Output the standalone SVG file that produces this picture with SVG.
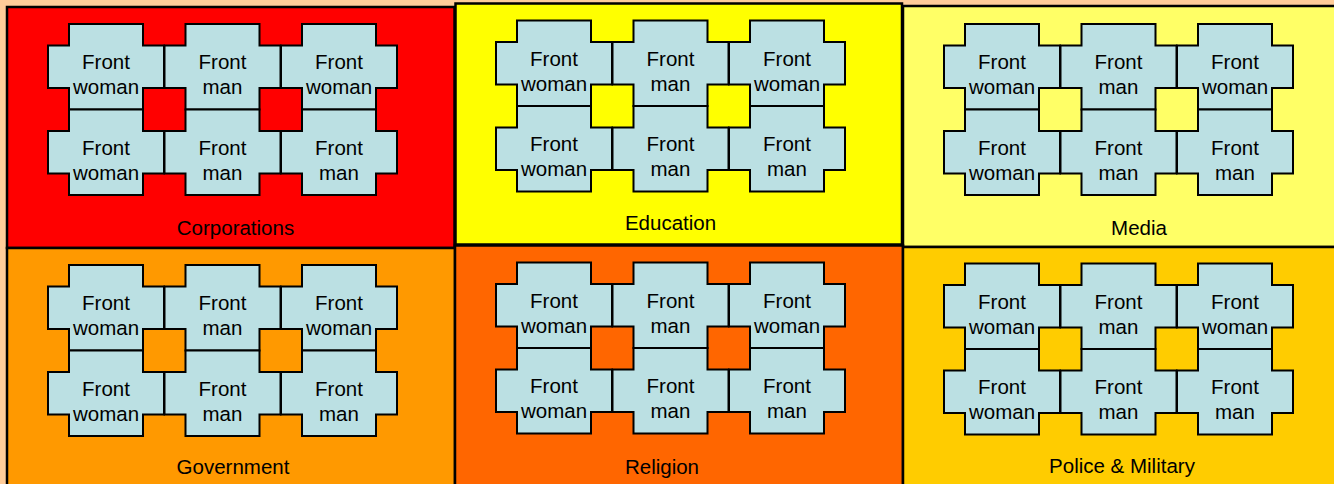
<svg xmlns="http://www.w3.org/2000/svg" xmlns:xlink="http://www.w3.org/1999/xlink" width="1334" height="484" viewBox="0 0 1334 484">
<style>
.panel{stroke:#000;stroke-width:2.5}
.tile{fill:#BBE0E3;stroke:#000;stroke-width:2}
text{font-family:"Liberation Sans",Arial,sans-serif;font-size:20.5px;fill:#000;text-anchor:middle}
</style>
<defs>
<path id="tile" d="M21,0 H95 V21.5 H116 V64 H95 V85.5 H21 V64 H0 V21.5 H21 Z"/>
</defs>
<rect width="1334" height="484" fill="#FFCC99"/>
<g id="panels">
<rect id="corporations-bg" class="panel" x="7" y="7" width="447.5" height="241" fill="#FF0000"/>
<rect id="education-bg" class="panel" x="455.5" y="3.5" width="446.5" height="241" fill="#FFFF00"/>
<rect id="media-bg" class="panel" x="903" y="6" width="440" height="241" fill="#FFFF66"/>
<rect id="government-bg" class="panel" x="7" y="248" width="448" height="250" fill="#FF9900"/>
<rect id="religion-bg" class="panel" x="455" y="245.5" width="448" height="250" fill="#FF6600"/>
<rect id="police-bg" class="panel" x="903" y="247" width="440" height="250" fill="#FFCC00"/>
</g>
<g id="connectors"></g>
<!-- Panel 1 -->
<g id="p1-t1" transform="translate(48,24)"><use href="#tile" class="tile"/><text x="58" y="45">Front</text><text x="58" y="70">woman</text></g>
<g id="p1-t2" transform="translate(164.5,24)"><use href="#tile" class="tile"/><text x="58" y="45">Front</text><text x="58" y="70">man</text></g>
<g id="p1-t3" transform="translate(281,24)"><use href="#tile" class="tile"/><text x="58" y="45">Front</text><text x="58" y="70">woman</text></g>
<g id="p1-t4" transform="translate(48,109.5)"><use href="#tile" class="tile"/><text x="58" y="45">Front</text><text x="58" y="70">woman</text></g>
<g id="p1-t5" transform="translate(164.5,109.5)"><use href="#tile" class="tile"/><text x="58" y="45">Front</text><text x="58" y="70">man</text></g>
<g id="p1-t6" transform="translate(281,109.5)"><use href="#tile" class="tile"/><text x="58" y="45">Front</text><text x="58" y="70">man</text></g>
<g id="label-corporations"><text x="235.5" y="235">Corporations</text></g>
<!-- Panel 2 -->
<g id="p2-t1" transform="translate(496,20.5)"><use href="#tile" class="tile"/><text x="58" y="45">Front</text><text x="58" y="70">woman</text></g>
<g id="p2-t2" transform="translate(612.5,20.5)"><use href="#tile" class="tile"/><text x="58" y="45">Front</text><text x="58" y="70">man</text></g>
<g id="p2-t3" transform="translate(729,20.5)"><use href="#tile" class="tile"/><text x="58" y="45">Front</text><text x="58" y="70">woman</text></g>
<g id="p2-t4" transform="translate(496,106)"><use href="#tile" class="tile"/><text x="58" y="45">Front</text><text x="58" y="70">woman</text></g>
<g id="p2-t5" transform="translate(612.5,106)"><use href="#tile" class="tile"/><text x="58" y="45">Front</text><text x="58" y="70">man</text></g>
<g id="p2-t6" transform="translate(729,106)"><use href="#tile" class="tile"/><text x="58" y="45">Front</text><text x="58" y="70">man</text></g>
<g id="label-education"><text x="670.5" y="230">Education</text></g>
<!-- Panel 3 -->
<g id="p3-t1" transform="translate(944,24)"><use href="#tile" class="tile"/><text x="58" y="45">Front</text><text x="58" y="70">woman</text></g>
<g id="p3-t2" transform="translate(1060.5,24)"><use href="#tile" class="tile"/><text x="58" y="45">Front</text><text x="58" y="70">man</text></g>
<g id="p3-t3" transform="translate(1177,24)"><use href="#tile" class="tile"/><text x="58" y="45">Front</text><text x="58" y="70">woman</text></g>
<g id="p3-t4" transform="translate(944,109.5)"><use href="#tile" class="tile"/><text x="58" y="45">Front</text><text x="58" y="70">woman</text></g>
<g id="p3-t5" transform="translate(1060.5,109.5)"><use href="#tile" class="tile"/><text x="58" y="45">Front</text><text x="58" y="70">man</text></g>
<g id="p3-t6" transform="translate(1177,109.5)"><use href="#tile" class="tile"/><text x="58" y="45">Front</text><text x="58" y="70">man</text></g>
<g id="label-media"><text x="1139" y="235">Media</text></g>
<!-- Panel 4 -->
<g id="p4-t1" transform="translate(48,265)"><use href="#tile" class="tile"/><text x="58" y="45">Front</text><text x="58" y="70">woman</text></g>
<g id="p4-t2" transform="translate(164.5,265)"><use href="#tile" class="tile"/><text x="58" y="45">Front</text><text x="58" y="70">man</text></g>
<g id="p4-t3" transform="translate(281,265)"><use href="#tile" class="tile"/><text x="58" y="45">Front</text><text x="58" y="70">woman</text></g>
<g id="p4-t4" transform="translate(48,350.5)"><use href="#tile" class="tile"/><text x="58" y="45">Front</text><text x="58" y="70">woman</text></g>
<g id="p4-t5" transform="translate(164.5,350.5)"><use href="#tile" class="tile"/><text x="58" y="45">Front</text><text x="58" y="70">man</text></g>
<g id="p4-t6" transform="translate(281,350.5)"><use href="#tile" class="tile"/><text x="58" y="45">Front</text><text x="58" y="70">man</text></g>
<g id="label-government"><text x="233" y="474">Government</text></g>
<!-- Panel 5 -->
<g id="p5-t1" transform="translate(496,262.5)"><use href="#tile" class="tile"/><text x="58" y="45">Front</text><text x="58" y="70">woman</text></g>
<g id="p5-t2" transform="translate(612.5,262.5)"><use href="#tile" class="tile"/><text x="58" y="45">Front</text><text x="58" y="70">man</text></g>
<g id="p5-t3" transform="translate(729,262.5)"><use href="#tile" class="tile"/><text x="58" y="45">Front</text><text x="58" y="70">woman</text></g>
<g id="p5-t4" transform="translate(496,348)"><use href="#tile" class="tile"/><text x="58" y="45">Front</text><text x="58" y="70">woman</text></g>
<g id="p5-t5" transform="translate(612.5,348)"><use href="#tile" class="tile"/><text x="58" y="45">Front</text><text x="58" y="70">man</text></g>
<g id="p5-t6" transform="translate(729,348)"><use href="#tile" class="tile"/><text x="58" y="45">Front</text><text x="58" y="70">man</text></g>
<g id="label-religion"><text x="662" y="474">Religion</text></g>
<!-- Panel 6 -->
<g id="p6-t1" transform="translate(944,263.5)"><use href="#tile" class="tile"/><text x="58" y="45">Front</text><text x="58" y="70">woman</text></g>
<g id="p6-t2" transform="translate(1060.5,263.5)"><use href="#tile" class="tile"/><text x="58" y="45">Front</text><text x="58" y="70">man</text></g>
<g id="p6-t3" transform="translate(1177,263.5)"><use href="#tile" class="tile"/><text x="58" y="45">Front</text><text x="58" y="70">woman</text></g>
<g id="p6-t4" transform="translate(944,349)"><use href="#tile" class="tile"/><text x="58" y="45">Front</text><text x="58" y="70">woman</text></g>
<g id="p6-t5" transform="translate(1060.5,349)"><use href="#tile" class="tile"/><text x="58" y="45">Front</text><text x="58" y="70">man</text></g>
<g id="p6-t6" transform="translate(1177,349)"><use href="#tile" class="tile"/><text x="58" y="45">Front</text><text x="58" y="70">man</text></g>
<g id="label-police"><text x="1122" y="472.5">Police &amp; Military</text></g>
</svg>
